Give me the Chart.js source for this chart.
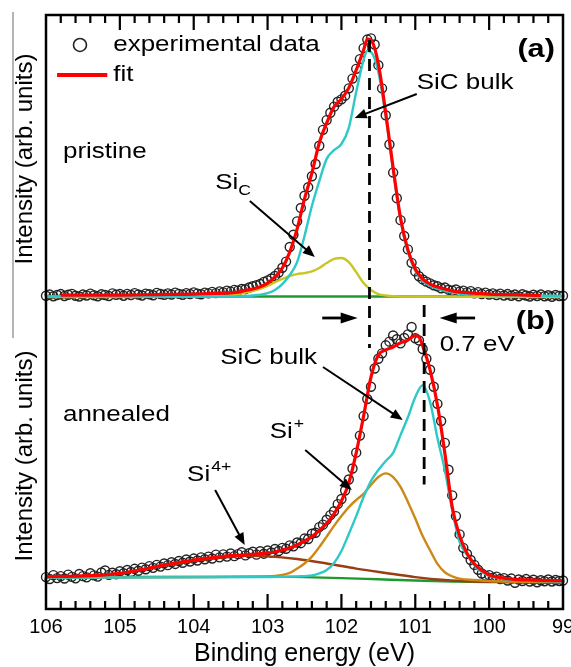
<!DOCTYPE html>
<html>
<head>
<meta charset="utf-8">
<title>Si 2p spectra, pristine and annealed</title>
<script src="https://cdn.jsdelivr.net/npm/chart.js@4.4.1/dist/chart.umd.min.js"></script>
<style>
  html, body { margin: 0; padding: 0; background: #fff; overflow: hidden; }
  #wrap { position: relative; width: 571px; height: 667px; }
</style>
</head>
<body>
<div id="wrap"><canvas id="chart"></canvas></div>
<script>
'use strict';

// binding energy of every measured point (eV), same grid for both spectra
var expEnergy = [
  106.00, 105.95, 105.90, 105.85, 105.80, 105.75, 105.70, 105.65, 105.60, 105.55,
  105.50, 105.45, 105.40, 105.35, 105.30, 105.25, 105.20, 105.15, 105.10, 105.05,
  105.00, 104.95, 104.90, 104.85, 104.80, 104.75, 104.70, 104.65, 104.60, 104.55,
  104.50, 104.45, 104.40, 104.35, 104.30, 104.25, 104.20, 104.15, 104.10, 104.05,
  104.00, 103.95, 103.90, 103.85, 103.80, 103.75, 103.70, 103.65, 103.60, 103.55,
  103.50, 103.45, 103.40, 103.35, 103.30, 103.25, 103.20, 103.15, 103.10, 103.05,
  103.00, 102.95, 102.90, 102.85, 102.80, 102.75, 102.70, 102.65, 102.60, 102.55,
  102.50, 102.45, 102.40, 102.35, 102.30, 102.25, 102.20, 102.15, 102.10, 102.05,
  102.00, 101.95, 101.90, 101.85, 101.80, 101.75, 101.70, 101.65, 101.60, 101.55,
  101.50, 101.45, 101.40, 101.35, 101.30, 101.25, 101.20, 101.15, 101.10, 101.05,
  101.00, 100.95, 100.90, 100.85, 100.80, 100.75, 100.70, 100.65, 100.60, 100.55,
  100.50, 100.45, 100.40, 100.35, 100.30, 100.25, 100.20, 100.15, 100.10, 100.05,
  100.00, 99.95, 99.90, 99.85, 99.80, 99.75, 99.70, 99.65, 99.60, 99.55,
  99.50, 99.45, 99.40, 99.35, 99.30, 99.25, 99.20, 99.15, 99.10, 99.05,
  99.00
];

// (a) pristine
var expA = [
  0.5, 1.0, 0.3, 0.8, 1.2, 0.4, 0.9, 1.3, 0.5, 0.2,
  1.0, 0.6, 1.4, 0.7, 0.3, 1.1, 0.8, 0.4, 1.5, 0.9,
  1.2, 0.5, 1.3, 0.8, 1.6, 1.0, 0.6, 1.4, 1.1, 0.7,
  1.7, 1.2, 0.9, 1.5, 1.0, 1.8, 1.3, 0.9, 1.6, 1.2,
  1.9, 1.4, 1.1, 1.8, 1.5, 2.1, 1.6, 2.3, 1.9, 2.6,
  2.2, 2.9, 2.6, 3.3, 3.2, 3.9, 4.4, 4.8, 5.3, 6.2,
  6.8, 7.6, 8.6, 10.0, 12.0, 14.5, 20.5, 25.5, 31.0, 36.5,
  41.5, 45.0, 49.5, 54.5, 62.0, 68.5, 72.5, 75.5, 78.0, 80.0,
  81.0, 82.5, 85.5, 89.5, 93.5, 97.5, 102.0, 105.5, 106.0, 103.5,
  95.0, 85.5, 74.5, 62.5, 51.0, 40.5, 31.5, 25.0, 19.5, 14.0,
  10.5, 8.5, 7.2, 6.3, 5.6, 4.8, 4.4, 3.6, 3.9, 3.0,
  2.6, 3.1, 2.2, 2.6, 1.9, 2.4, 1.5, 2.0, 1.2, 1.8,
  1.0, 1.5, 0.8, 1.4, 0.6, 1.2, 0.5, 1.0, 0.3, 1.1,
  0.6, 0.2, 0.9, 0.4, 1.0, 0.3, 0.7, 0.1, 0.8, 0.4,
  0.5
];
var fitAEnergy = [105.8, 105.5, 105.0, 104.5, 104.0, 103.8, 103.6, 103.4, 103.3, 103.2,
  103.1, 103.0, 102.9, 102.8, 102.7, 102.6, 102.5, 102.4, 102.3, 102.2,
  102.1, 102.0, 101.9, 101.8, 101.7, 101.65, 101.6, 101.5, 101.4, 101.3,
  101.2, 101.1, 101.0, 100.9, 100.8, 100.7, 100.6, 100.5, 100.4, 100.2,
  100.0, 99.5, 99.3];
var fitA = [0.8, 0.8, 0.8, 1.0, 1.2, 1.4, 1.6, 2.0, 2.7, 3.3,
  4.2, 5.7, 8.2, 11.9, 18.4, 27.9, 40.2, 50.8, 63.1, 71.3,
  77.9, 81.1, 85.7, 93.0, 101.2, 105.7, 105.3, 95.5, 75.4, 52.9,
  32.4, 19.3, 11.5, 7.4, 5.3, 4.1, 3.3, 2.5, 2.0, 1.6,
  1.2, 0.8, 0.6];
var bulkAEnergy = [106.0, 103.4, 103.2, 103.0, 102.9, 102.8, 102.7, 102.6, 102.5, 102.4,
  102.3, 102.2, 102.1, 102.0, 101.9, 101.8, 101.7, 101.65, 101.6, 101.5,
  101.4, 101.3, 101.2, 101.1, 101.0, 100.9, 100.8, 100.7, 100.6, 100.5,
  100.4, 100.2, 100.0, 99.5, 99.0];
var bulkA = [0.2, 0.2, 0.6, 1.6, 2.9, 5.3, 9.0, 14.3, 25.0, 37.3,
  47.5, 56.6, 60.2, 62.7, 69.3, 84.0, 97.1, 100.8, 100.4, 92.2,
  73.8, 52.0, 31.6, 18.4, 10.7, 6.6, 4.5, 3.3, 2.5, 1.8,
  1.4, 1.0, 0.8, 0.6, 0.4];
var sicAEnergy = [106.0, 103.6, 103.4, 103.2, 103.0, 102.9, 102.8, 102.7, 102.6, 102.5,
  102.4, 102.3, 102.2, 102.1, 102.0, 101.9, 101.8, 101.7, 101.6, 101.5,
  101.4, 101.2, 99.0];
var sicA = [0.0, 0.4, 1.2, 2.5, 4.5, 6.1, 7.4, 8.6, 9.4, 9.8,
  10.5, 11.9, 13.9, 15.6, 16.0, 14.3, 10.2, 5.7, 2.9, 1.2,
  0.6, 0.2, 0.0];
var bgAEnergy = [106.0, 99.0];
var bgA = [0.2, 0.2];

// (b) annealed
var expB = [
  2.0, 1.2, 2.8, 1.6, 2.4, 1.4, 3.0, 2.1, 1.5, 3.3,
  2.4, 1.9, 3.6, 2.7, 2.2, 3.9, 4.7, 2.9, 3.8, 3.2,
  4.4, 3.6, 4.9, 4.1, 5.4, 4.6, 5.9, 5.2, 6.5, 5.8,
  7.0, 6.3, 7.6, 6.9, 8.1, 7.4, 8.6, 7.9, 9.2, 8.4,
  9.6, 8.8, 10.1, 9.3, 10.4, 9.6, 11.2, 10.1, 11.3, 10.4,
  11.7, 10.6, 11.4, 12.2, 10.9, 11.8, 12.4, 11.2, 12.6, 11.6,
  12.9, 12.1, 13.5, 12.7, 14.0, 13.6, 15.0, 14.6, 16.2, 15.9,
  17.8, 17.6, 19.8, 20.2, 22.5, 23.5, 25.5, 27.4, 29.0, 31.9,
  34.0, 37.5, 42.0, 46.5, 53.0, 60.0, 68.0, 75.0, 80.0, 87.5,
  91.5, 93.7, 97.0, 98.5, 101.0, 99.5, 97.8, 100.0, 101.5, 104.5,
  99.9, 99.0, 95.5, 91.5, 87.0, 80.0, 73.0, 66.0, 57.0, 46.0,
  35.5, 27.0, 19.5, 14.0, 11.5, 9.0, 7.0, 5.0, 3.5, 2.6,
  2.8, 1.8, 2.2, 1.2, 1.6, 0.6, 1.4, -0.3, 1.0, 0.4,
  1.2, 0.2, 0.9, -0.1, 0.7, 0.3, 1.0, 0.2, 0.8, 0.4,
  0.6
];
var fitBEnergy = [106.0, 105.5, 105.2, 105.0, 104.8, 104.6, 104.4, 104.2, 104.0, 103.8,
  103.6, 103.4, 103.2, 103.0, 102.9, 102.8, 102.7, 102.6, 102.5, 102.4,
  102.3, 102.2, 102.1, 102.0, 101.9, 101.8, 101.7, 101.6, 101.5, 101.4,
  101.3, 101.2, 101.1, 101.0, 100.95, 100.9, 100.8, 100.7, 100.6, 100.5,
  100.4, 100.3, 100.2, 100.1, 100.0, 99.8, 99.6, 99.4, 99.0];
var fitB = [2.2, 2.5, 2.9, 3.5, 4.5, 5.7, 7.0, 8.0, 9.0, 9.8,
  10.5, 10.9, 11.3, 11.9, 12.3, 13.1, 13.9, 15.2, 16.8, 18.6,
  21.1, 24.0, 27.9, 33.2, 40.6, 52.9, 68.0, 84.0, 93.0, 95.1,
  96.3, 98.0, 99.2, 101.0, 100.4, 96.8, 86.9, 72.5, 52.9, 30.7,
  19.0, 11.8, 7.4, 4.8, 2.9, 1.6, 1.0, 0.8, 0.5];
var bulkBEnergy = [106.0, 103.0, 102.6, 102.4, 102.3, 102.2, 102.1, 102.0, 101.9, 101.8,
  101.7, 101.6, 101.5, 101.4, 101.3, 101.2, 101.1, 101.0, 100.9, 100.8,
  100.7, 100.6, 100.5, 100.4, 100.3, 100.2, 100.1, 100.0, 99.8, 99.5,
  99.0];
var bulkB = [1.8, 2.0, 2.3, 2.7, 3.5, 4.9, 7.8, 12.7, 19.7, 27.0,
  34.8, 41.4, 45.9, 49.6, 52.9, 60.2, 67.5, 75.8, 80.7, 73.8,
  59.0, 45.9, 29.5, 16.4, 11.1, 7.0, 4.1, 2.5, 1.2, 0.6,
  0.2];
var siPlusEnergy = [106.0, 103.0, 102.8, 102.7, 102.6, 102.5, 102.4, 102.3, 102.2, 102.1,
  102.0, 101.9, 101.8, 101.7, 101.6, 101.5, 101.4, 101.3, 101.2, 101.1,
  101.0, 100.9, 100.8, 100.7, 100.6, 100.5, 100.4, 100.2, 100.0, 99.0];
var siPlus = [1.8, 2.3, 2.9, 3.7, 5.5, 7.6, 10.4, 14.3, 18.6, 23.0,
  27.0, 30.7, 33.6, 36.1, 39.8, 43.0, 44.5, 43.0, 39.0, 32.8,
  26.0, 18.8, 13.0, 7.4, 4.0, 2.3, 1.4, 0.8, 0.4, 0.0];
var si4Energy = [106.0, 105.5, 105.0, 104.5, 104.0, 103.6, 103.3, 103.0, 102.6, 102.2,
  101.8, 101.4, 101.0, 100.6, 100.2, 99.8, 99.0];
var si4 = [2.3, 2.5, 3.5, 6.1, 8.6, 10.0, 10.7, 10.5, 9.4, 7.6,
  5.5, 3.7, 2.0, 0.8, 0.2, 0.0, -0.2];
var bgBEnergy = [106.0, 103.0, 102.5, 102.0, 101.5, 101.0, 100.5, 100.0, 99.0];
var bgB = [2.0, 2.2, 2.0, 1.6, 1.1, 0.6, 0.2, 0.0, -0.1];

// peak markers: energy and vertical span of each dashed line
var peakA = 101.62, peakASpan = [105.3, -20.9];
var peakB = 100.88, peakBSpan = [113.5, 40.0];

var energyTicks = [106, 105, 104, 103, 102, 101, 100, 99];

var FONT = "'Liberation Sans', Arial, Helvetica, sans-serif";
var STRETCH = 1.18;
var COLORS = {
  fit: '#ff0000',
  bulk: '#2fc8c8',
  sic: '#c9c522',
  bg: '#1f9a2a',
  siPlus: '#cb8a17',
  si4: '#9a3c14',
  mark: '#222222'
};

// labels and arrows, placed in data units of each panel
var textNotes = [
  { text: 'pristine', axis: 'ya', at: [105.77, 59.4] },
  { text: 'Si', sub: 'C', axis: 'ya', at: [103.71, 46.7] },
  { text: 'SiC bulk', axis: 'ya', at: [100.98, 87.7] },
  { text: '(a)', bold: true, align: 'right', axis: 'ya', at: [99.11, 101.2] },
  { text: 'annealed', axis: 'yb', at: [105.77, 68.4] },
  { text: 'SiC bulk', axis: 'yb', at: [103.64, 91.8] },
  { text: 'Si', sup: '+', axis: 'yb', at: [102.97, 61.5] },
  { text: 'Si', sup: '4+', axis: 'yb', at: [104.09, 43.9] },
  { text: '0.7 eV', axis: 'yb', at: [100.67, 97.1] },
  { text: '(b)', bold: true, align: 'right', axis: 'yb', at: [99.11, 106.6] }
];
var arrowNotes = [
  { axis: 'ya', from: [103.24, 39.3], to: [102.36, 16.4] },
  { axis: 'ya', from: [100.98, 83.2], to: [101.82, 73.4] },
  { axis: 'yb', from: [102.25, 88.1], to: [101.17, 66.4] },
  { axis: 'yb', from: [102.49, 54.1], to: [101.86, 37.7] },
  { axis: 'yb', from: [103.71, 37.7], to: [103.31, 15.2] },
  { axis: 'yb', from: [102.26, 108.2], to: [101.78, 108.2], big: true },
  { axis: 'yb', from: [100.19, 108.2], to: [100.67, 108.2], big: true }
];
var legendNotes = {
  marker: [105.54, 103.3],
  dataText: [105.09, 103.3],
  lineFrom: [105.85, 91.0],
  lineTo: [105.17, 91.0],
  fitText: [105.09, 91.0]
};

function points(energies, values) {
  return energies.map(function (e, i) { return { x: e, y: values[i] }; });
}

function curve(energies, values, color, axis, width, order) {
  return {
    data: points(energies, values),
    yAxisID: axis,
    borderColor: color,
    borderWidth: width,
    pointRadius: 0,
    fill: false,
    cubicInterpolationMode: 'monotone',
    order: order
  };
}

function measured(values, axis) {
  return {
    data: points(expEnergy, values),
    yAxisID: axis,
    showLine: false,
    pointRadius: 4.5,
    pointBorderWidth: 1.4,
    pointBorderColor: COLORS.mark,
    pointBackgroundColor: 'rgba(255,255,255,0)',
    clip: 6,
    order: 9
  };
}

function peakLine(energy, span, axis) {
  return {
    data: [{ x: energy, y: span[0] }, { x: energy, y: span[1] }],
    yAxisID: axis,
    borderColor: '#000',
    borderWidth: 2.8,
    borderDash: [12, 7],
    pointRadius: 0,
    clip: false,
    order: 0
  };
}

var datasets = [
  measured(expA, 'ya'),
  curve(bgAEnergy, bgA, COLORS.bg, 'ya', 2.4, 6),
  curve(sicAEnergy, sicA, COLORS.sic, 'ya', 2.4, 4),
  curve(bulkAEnergy, bulkA, COLORS.bulk, 'ya', 2.4, 3),
  curve(fitAEnergy, fitA, COLORS.fit, 'ya', 3.2, 1),
  measured(expB, 'yb'),
  curve(bgBEnergy, bgB, COLORS.bg, 'yb', 2.4, 6),
  curve(si4Energy, si4, COLORS.si4, 'yb', 2.4, 5),
  curve(siPlusEnergy, siPlus, COLORS.siPlus, 'yb', 2.4, 4),
  curve(bulkBEnergy, bulkB, COLORS.bulk, 'yb', 2.4, 3),
  curve(fitBEnergy, fitB, COLORS.fit, 'yb', 3.2, 1),
  peakLine(peakA, peakASpan, 'ya'),
  peakLine(peakB, peakBSpan, 'yb')
];

function toPixel(chart, axis, pt) {
  return [chart.scales.x.getPixelForValue(pt[0]), chart.scales[axis].getPixelForValue(pt[1])];
}

// text is drawn slightly widened, like the lettering of the original figure
function drawText(ctx, str, x, y, size, bold, align) {
  ctx.save();
  ctx.font = (bold ? 'bold ' : '') + size + 'px ' + FONT;
  ctx.textAlign = align || 'left';
  ctx.textBaseline = 'middle';
  ctx.translate(x, y);
  ctx.scale(STRETCH, 1);
  ctx.fillText(str, 0, 0);
  var w = ctx.measureText(str).width * STRETCH;
  ctx.restore();
  return w;
}

function drawArrow(ctx, a, b, width, headLen, headHalf) {
  var ang = Math.atan2(b[1] - a[1], b[0] - a[0]);
  var c = Math.cos(ang), s = Math.sin(ang);
  ctx.lineWidth = width;
  ctx.beginPath();
  ctx.moveTo(a[0], a[1]);
  ctx.lineTo(b[0] - c * headLen * 0.7, b[1] - s * headLen * 0.7);
  ctx.stroke();
  ctx.beginPath();
  ctx.moveTo(b[0], b[1]);
  ctx.lineTo(b[0] - c * headLen + s * headHalf, b[1] - s * headLen - c * headHalf);
  ctx.lineTo(b[0] - c * headLen - s * headHalf, b[1] - s * headLen + c * headHalf);
  ctx.closePath();
  ctx.fill();
}

var decorations = {
  id: 'decorations',
  afterDatasetsDraw: function (chart) {
    var ctx = chart.ctx;
    var area = chart.chartArea;
    var xs = chart.scales.x;
    ctx.save();

    // thin grey rule left of the upper panel
    ctx.strokeStyle = '#8c8c8c';
    ctx.lineWidth = 1.3;
    ctx.beginPath();
    ctx.moveTo(area.left - 33, area.top - 3);
    ctx.lineTo(area.left - 33, area.top + 323);
    ctx.stroke();

    // frame around both panels
    ctx.strokeStyle = '#000';
    ctx.fillStyle = '#000';
    ctx.lineWidth = 2.5;
    ctx.strokeRect(area.left, area.top, area.right - area.left, area.bottom - area.top);

    // inward ticks, top and bottom, minor every 0.2 eV
    ctx.lineWidth = 2.2;
    for (var i = 1; i < 35; i++) {
      var p = xs.getPixelForValue(99 + i * 0.2);
      var len = i % 5 === 0 ? 15 : 8;
      ctx.beginPath();
      ctx.moveTo(p, area.top);
      ctx.lineTo(p, area.top + len);
      ctx.moveTo(p, area.bottom);
      ctx.lineTo(p, area.bottom - len);
      ctx.stroke();
    }

    // legend
    var m = toPixel(chart, 'ya', legendNotes.marker);
    ctx.strokeStyle = COLORS.mark;
    ctx.lineWidth = 1.6;
    ctx.beginPath();
    ctx.arc(m[0], m[1], 6.5, 0, Math.PI * 2);
    ctx.stroke();
    var t = toPixel(chart, 'ya', legendNotes.dataText);
    drawText(ctx, 'experimental data', t[0], t[1], 22);
    var l1 = toPixel(chart, 'ya', legendNotes.lineFrom);
    var l2 = toPixel(chart, 'ya', legendNotes.lineTo);
    ctx.strokeStyle = COLORS.fit;
    ctx.lineWidth = 4;
    ctx.beginPath();
    ctx.moveTo(l1[0], l1[1]);
    ctx.lineTo(l2[0], l2[1]);
    ctx.stroke();
    var f = toPixel(chart, 'ya', legendNotes.fitText);
    drawText(ctx, 'fit', f[0], f[1], 22);

    // labels
    ctx.strokeStyle = '#000';
    textNotes.forEach(function (n) {
      var q = toPixel(chart, n.axis, n.at);
      var w = drawText(ctx, n.text, q[0], q[1], n.bold ? 26 : 22, n.bold, n.align);
      if (n.sub) drawText(ctx, n.sub, q[0] + w, q[1] + 8, 15);
      if (n.sup) drawText(ctx, n.sup, q[0] + w + 1, q[1] - 8, 15);
    });

    // arrows
    arrowNotes.forEach(function (n) {
      var a = toPixel(chart, n.axis, n.from);
      var b = toPixel(chart, n.axis, n.to);
      if (n.big) drawArrow(ctx, a, b, 2.8, 17, 5.5);
      else drawArrow(ctx, a, b, 2, 12, 5);
    });

    ctx.restore();
  }
};

Chart.defaults.font.family = FONT;
Chart.defaults.color = '#000';

function panelAxis(min, max, weight, order) {
  return {
    type: 'linear',
    position: 'left',
    stack: 'panels',
    stackWeight: weight,
    weight: order,
    min: min,
    max: max,
    grid: { display: false, drawTicks: false },
    border: { display: false },
    ticks: { display: false },
    title: {
      display: true,
      text: 'Intensity (arb. units)',
      color: '#000',
      font: { size: 24, lineHeight: 1.2 },
      padding: { top: 4, bottom: 6.6 }
    }
  };
}

new Chart(document.getElementById('chart'), {
  type: 'line',
  data: { datasets: datasets },
  options: {
    responsive: true,
    maintainAspectRatio: false,
    animation: false,
    devicePixelRatio: 1,
    layout: { padding: { left: 6.6, right: 8, top: 15, bottom: 0 } },
    plugins: {
      legend: { display: false },
      tooltip: { enabled: false }
    },
    scales: {
      x: {
        type: 'linear',
        reverse: true,
        min: 99,
        max: 106,
        afterBuildTicks: function (scale) {
          scale.ticks = energyTicks.slice().sort(function (a, b) { return a - b; })
            .map(function (v) { return { value: v }; });
        },
        afterFit: function (scale) {
          scale.paddingLeft = 0;
          scale.paddingRight = 0;
        },
        grid: { display: false, drawTicks: false },
        border: { display: false },
        ticks: {
          color: '#000',
          padding: 6,
          maxRotation: 0,
          autoSkip: false,
          font: { size: 20, lineHeight: 1.2 },
          callback: function (v) { return String(v); }
        },
        title: {
          display: true,
          text: 'Binding energy (eV)',
          color: '#000',
          font: { size: 25, lineHeight: 1 },
          padding: { top: -3, bottom: 0 }
        }
      },
      ya: panelAxis(-2.46, 115.57, 288, 2),
      yb: panelAxis(-11.07, 114.34, 306, 1)
    }
  },
  plugins: [decorations]
});
</script>
</body>
</html>
